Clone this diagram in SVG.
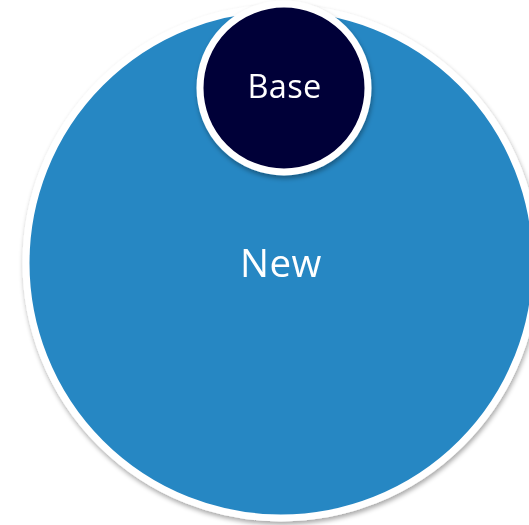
<svg xmlns="http://www.w3.org/2000/svg" width="529" height="525" viewBox="0 0 529 525">
<defs>
<filter id="sh" x="-10%" y="-10%" width="120%" height="120%">
<feGaussianBlur in="SourceAlpha" stdDeviation="2.5"/>
<feOffset dx="1" dy="3" result="b"/>
<feComponentTransfer><feFuncA type="linear" slope="0.35"/></feComponentTransfer>
<feMerge><feMergeNode/><feMergeNode in="SourceGraphic"/></feMerge>
</filter>
</defs>
<style>
.lbl{font-family:"Open Sans","Liberation Sans",sans-serif;fill:#ffffff;text-anchor:middle}
</style>
<rect width="529" height="525" fill="#ffffff"/>
<g id="new" filter="url(#sh)">
<circle cx="281" cy="263" r="255" fill="#2787C3" stroke="#ffffff" stroke-width="7"/>
<text class="lbl" x="281" y="277" font-size="38.5" letter-spacing="0.5">New</text>
</g>
<g id="base" filter="url(#sh)">
<circle cx="284" cy="88" r="84" fill="#020038" stroke="#ffffff" stroke-width="7"/>
<text class="lbl" x="284.5" y="98" font-size="32.5" letter-spacing="0.3">Base</text>
</g>
<g id="connectors"/>
</svg>
